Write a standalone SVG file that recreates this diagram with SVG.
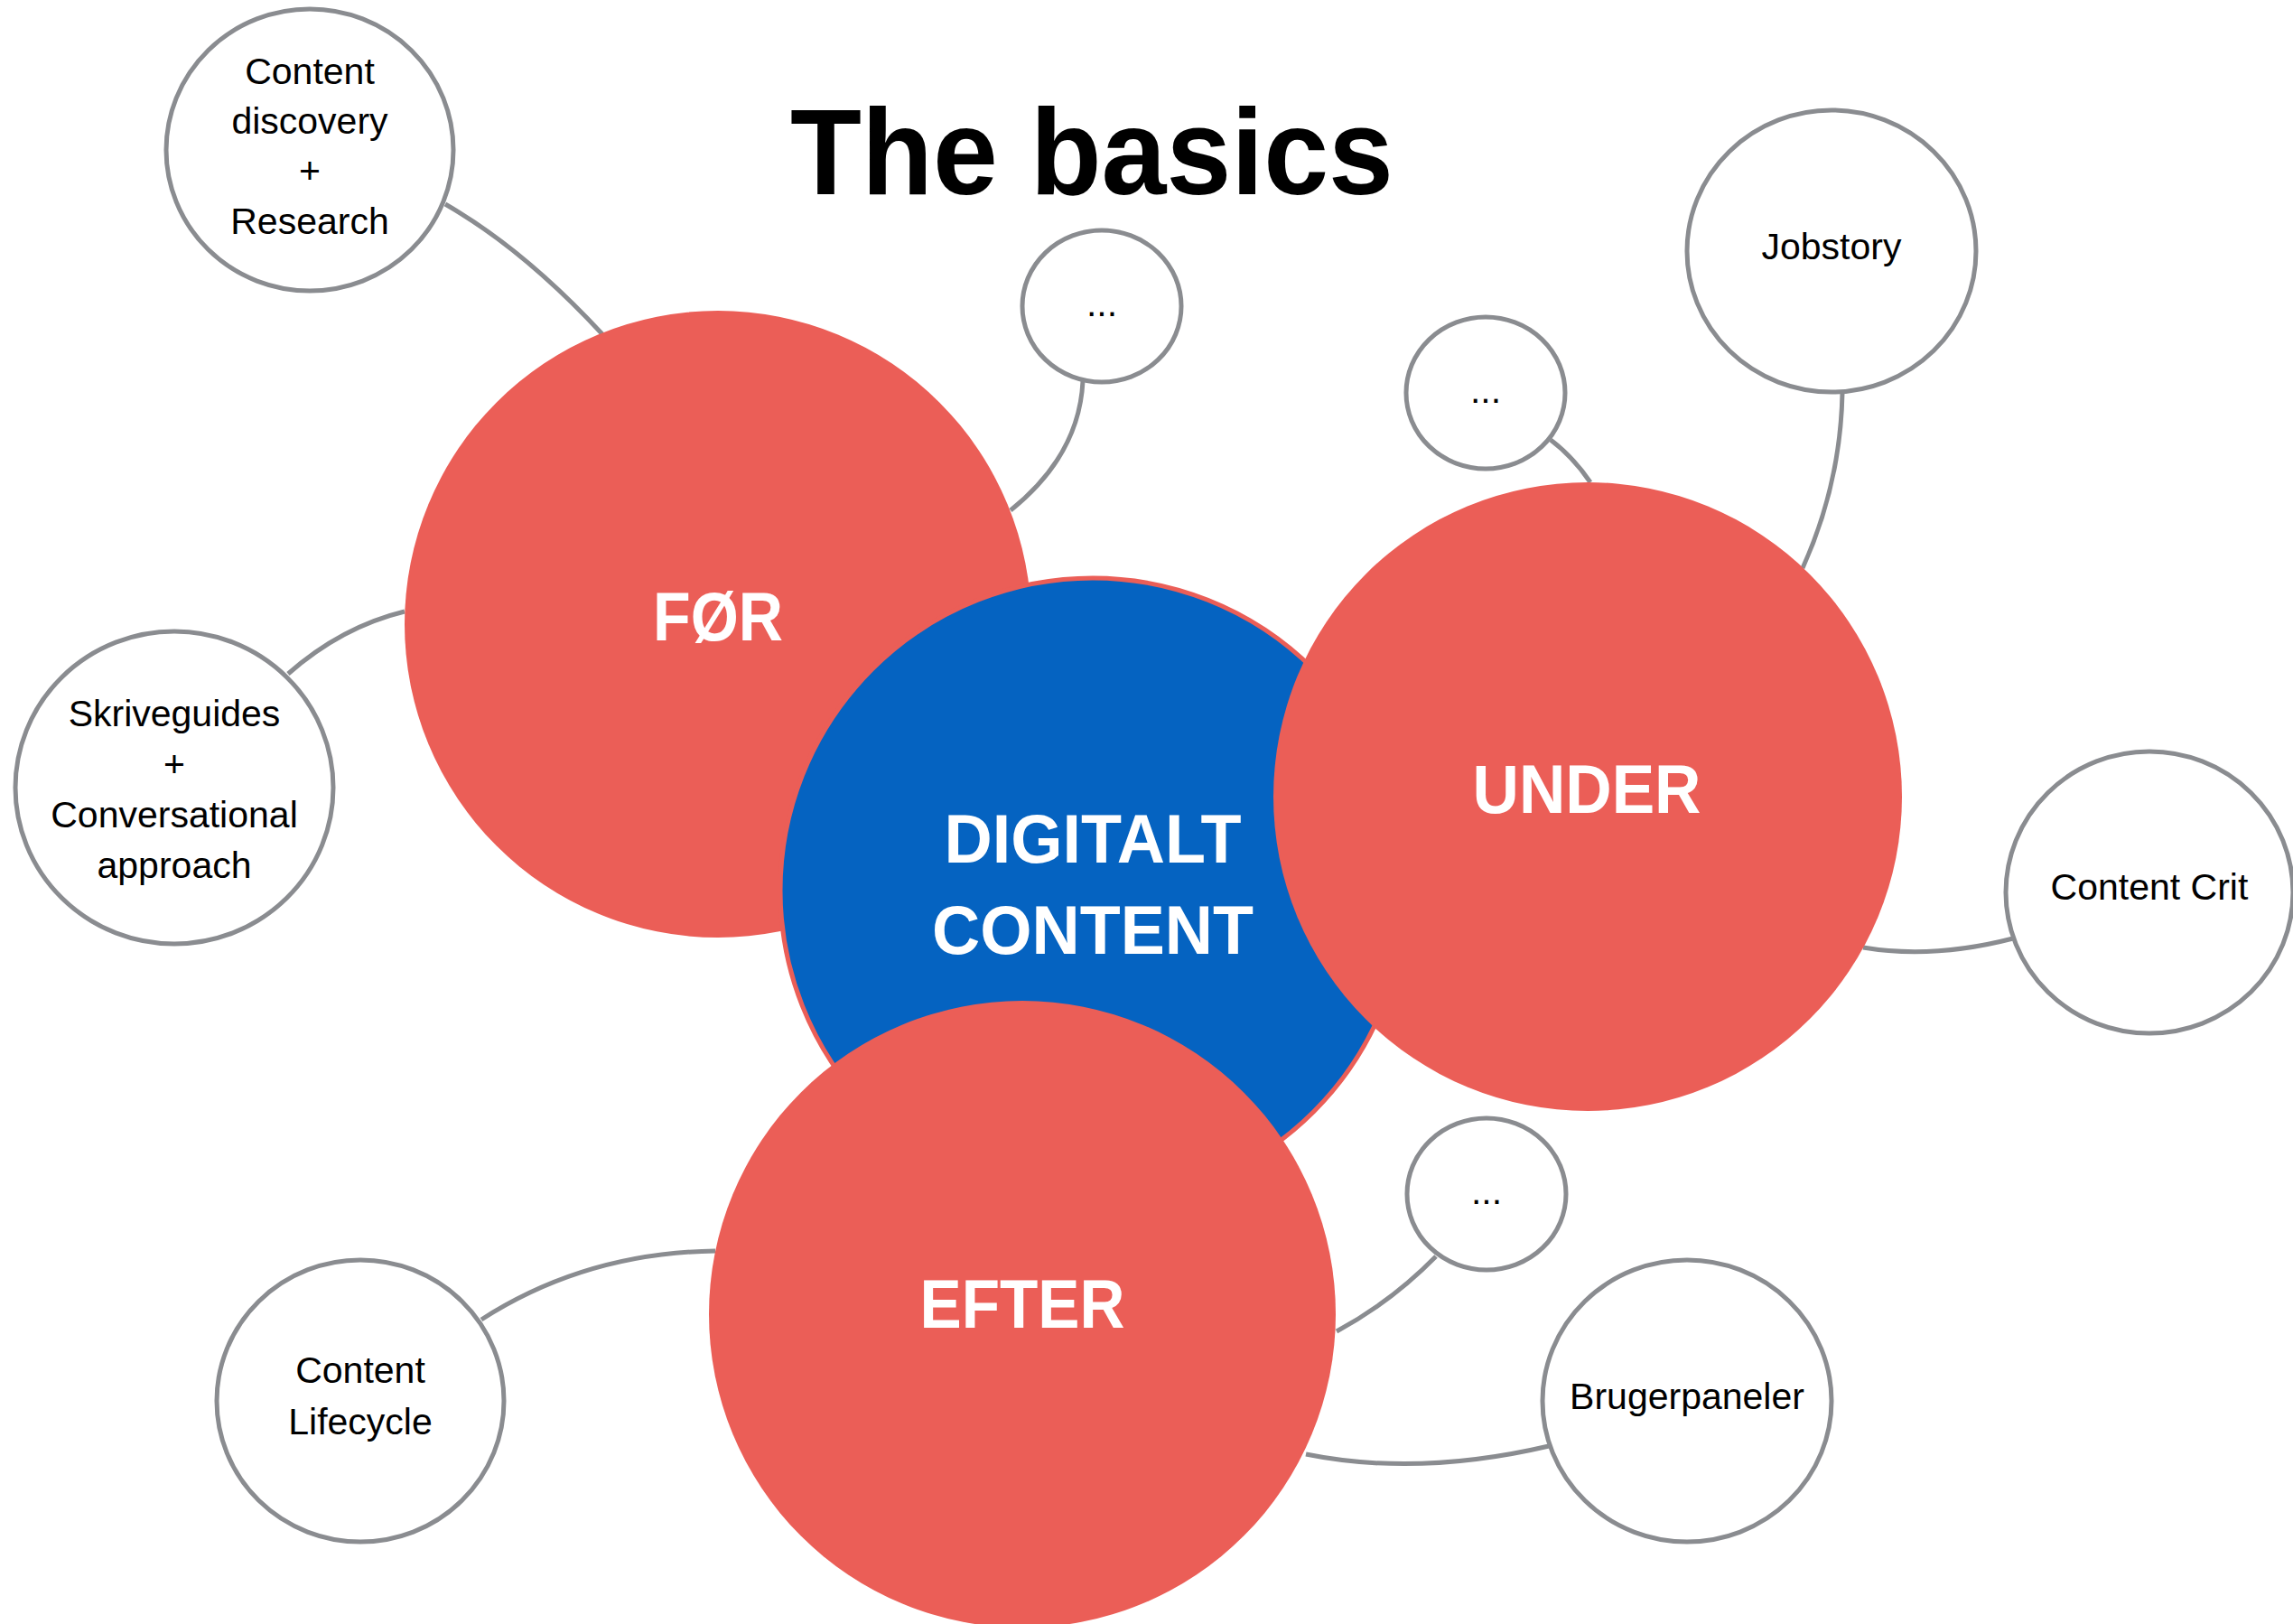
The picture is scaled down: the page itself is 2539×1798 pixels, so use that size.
<svg xmlns="http://www.w3.org/2000/svg" width="2539" height="1798" viewBox="0 0 2539 1798">
<style>
.conn{fill:none;stroke:#8A8C90;stroke-width:5}
.small{fill:#fff;stroke:#8A8C90;stroke-width:5}
.big{fill:#EB5E57}
.core{fill:#0563C1;stroke:#EB5E57;stroke-width:5}
.lbl{font-family:"Liberation Sans",Arial,sans-serif;font-size:41px;fill:#000;text-anchor:middle}
.head{font-family:"Liberation Sans",Arial,sans-serif;font-weight:bold;font-size:76px;fill:#fff;text-anchor:middle}
.title{font-family:"Liberation Sans",Arial,sans-serif;font-weight:bold;font-size:136px;fill:#000;text-anchor:middle}
</style>
<rect width="2539" height="1798" fill="#fff"/>
<text class="title" x="1209" y="215" textLength="668" lengthAdjust="spacingAndGlyphs">The basics</text>
<g id="connectors">
<path class="conn" d="M493,226 Q580,276 667,370"/>
<path class="conn" d="M1199,422 Q1195,504 1119,565"/>
<path class="conn" d="M319,746 Q378,694 448,677"/>
<path class="conn" d="M1717,487 Q1742,506 1761,534"/>
<path class="conn" d="M2040,435 Q2038,536 1996,629"/>
<path class="conn" d="M2229,1039 Q2140,1062 2063,1049"/>
<path class="conn" d="M1590,1391 Q1541,1441 1480,1474"/>
<path class="conn" d="M1715,1601 Q1570,1635 1446,1610"/>
<path class="conn" d="M533,1461 Q648,1387 792,1385"/>
</g>
<g id="for">
<circle class="big" cx="795" cy="691" r="347"/>
<text class="head" x="795" y="709" textLength="144" lengthAdjust="spacingAndGlyphs">FØR</text>
</g>
<g id="digitalt-content">
<circle class="core" cx="1210" cy="986" r="346"/>
<text class="head" x="1210" y="955" textLength="329" lengthAdjust="spacingAndGlyphs">DIGITALT</text>
<text class="head" x="1210" y="1056" textLength="356" lengthAdjust="spacingAndGlyphs">CONTENT</text>
</g>
<g id="under">
<circle class="big" cx="1758" cy="882" r="348"/>
<text class="head" x="1757" y="900" textLength="253" lengthAdjust="spacingAndGlyphs">UNDER</text>
</g>
<g id="efter">
<circle class="big" cx="1132" cy="1455" r="347"/>
<text class="head" x="1132" y="1470" textLength="227" lengthAdjust="spacingAndGlyphs">EFTER</text>
</g>
<g id="content-discovery">
<ellipse class="small" cx="343" cy="166" rx="159" ry="156"/>
<text class="lbl" x="343" y="93">Content</text>
<text class="lbl" x="343" y="148">discovery</text>
<text class="lbl" x="343" y="203">+</text>
<text class="lbl" x="343" y="259">Research</text>
</g>
<g id="dots-for">
<ellipse class="small" cx="1220" cy="339" rx="88" ry="84"/>
<text class="lbl" x="1220" y="350">...</text>
</g>
<g id="skriveguides">
<ellipse class="small" cx="193" cy="872" rx="176" ry="173"/>
<text class="lbl" x="193" y="804">Skriveguides</text>
<text class="lbl" x="193" y="860">+</text>
<text class="lbl" x="193" y="916">Conversational</text>
<text class="lbl" x="193" y="972">approach</text>
</g>
<g id="dots-under">
<ellipse class="small" cx="1645" cy="435" rx="88" ry="84"/>
<text class="lbl" x="1645" y="446">...</text>
</g>
<g id="jobstory">
<ellipse class="small" cx="2028" cy="278" rx="160" ry="156"/>
<text class="lbl" x="2028" y="287">Jobstory</text>
</g>
<g id="content-crit">
<ellipse class="small" cx="2380" cy="988" rx="159" ry="156"/>
<text class="lbl" x="2380" y="996">Content Crit</text>
</g>
<g id="dots-efter">
<ellipse class="small" cx="1646" cy="1322" rx="88" ry="84"/>
<text class="lbl" x="1646" y="1333">...</text>
</g>
<g id="brugerpaneler">
<ellipse class="small" cx="1868" cy="1551" rx="160" ry="156"/>
<text class="lbl" x="1868" y="1560">Brugerpaneler</text>
</g>
<g id="content-lifecycle">
<ellipse class="small" cx="399" cy="1551" rx="159" ry="156"/>
<text class="lbl" x="399" y="1531">Content</text>
<text class="lbl" x="399" y="1588">Lifecycle</text>
</g>
</svg>
